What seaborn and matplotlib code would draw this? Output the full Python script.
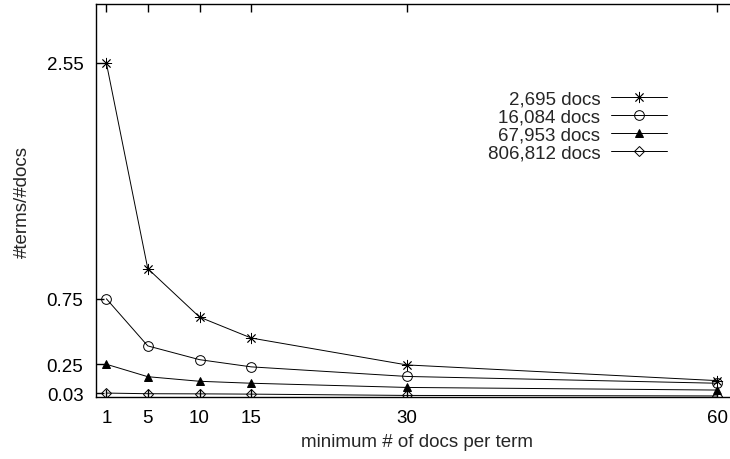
import pandas as pd
import seaborn as sns
import matplotlib.pyplot as plt

min_docs = [1, 5, 10, 15, 30, 60]
labels = ["2,695 docs", "16,084 docs", "67,953 docs", "806,812 docs"]
r2695 = [2.55, 0.98, 0.61, 0.45, 0.245, 0.125]
r16084 = [0.75, 0.39, 0.285, 0.23, 0.157, 0.105]
r67953 = [0.25, 0.155, 0.12, 0.105, 0.073, 0.053]
r806812 = [0.03, 0.025, 0.024, 0.022, 0.012, 0.008]
yticks = [0.03, 0.25, 0.75, 2.55]

sns.set_style("ticks")
plt.rcParams["font.family"] = ["Liberation Sans", "DejaVu Sans"]
plt.rcParams["font.size"] = 13.5

fig = plt.figure(figsize=(7.3, 4.6), dpi=100)
# axes run past the right edge like in the original
ax = fig.add_axes([96 / 730, 62 / 460, 642 / 730, 393 / 460])

series = [r2695, r16084, r67953, r806812]
styles = [
    dict(marker=(8, 2, 0), ms=8, mfc="none", mew=0.6),
    dict(marker="o", ms=7, mfc="none", mew=0.7),
    dict(marker="^", ms=6, mfc="black", mew=0.7),
    dict(marker="D", ms=5, mfc="none", mew=0.7),
]
for vals, lab, st in zip(series, labels, styles):
    df = pd.DataFrame({"x": min_docs, "y": vals})
    sns.lineplot(data=df, x="x", y="y", ax=ax, color="black", lw=0.7,
                 mec="black", label=lab, **st)

ax.set_xlim(0, 62)
ax.set_ylim(0, 3.0)
ax.set_xticks(min_docs)
ax.set_xticklabels([str(v) for v in min_docs])
ax.set_yticks(yticks)
ax.set_yticklabels([f"{v:.2f}" for v in yticks])
ax.tick_params(direction="in", length=6, width=1, top=True, right=True,
               labelsize=13.5, color="black", labelcolor="black")
ax.tick_params(axis="x", pad=9)
ax.tick_params(axis="y", pad=9)
for s in ax.spines.values():
    s.set_visible(True)
    s.set_linewidth(1.0)
    s.set_color("black")

ax.set_xlabel("minimum # of docs per term", fontsize=13.5)
ax.set_ylabel("#terms/#docs", fontsize=13.5)
ax.xaxis.set_label_coords(0.5, -36 / 393)
ax.yaxis.set_label_coords(-65 / 642, 0.5)

ax.legend(loc="upper right", bbox_to_anchor=(667 / 730, 1 - 91 / 460),
          bbox_transform=fig.transFigure, frameon=False, markerfirst=False,
          handlelength=3, handletextpad=0.55, labelspacing=0.05,
          borderpad=0, borderaxespad=0, fontsize=13.5)

plt.savefig("out.png", dpi=100)
